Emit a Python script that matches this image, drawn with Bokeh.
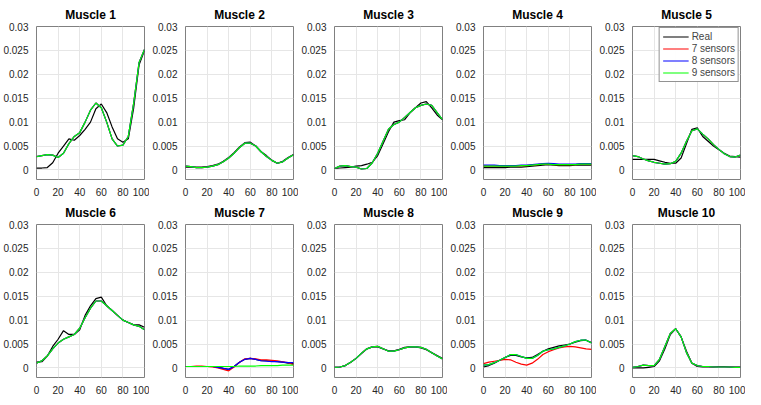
from bokeh.plotting import figure
from bokeh.layouts import gridplot
from bokeh.models import FixedTicker, Legend, LegendItem
from bokeh.embed import file_html
from bokeh.resources import INLINE

# gait cycle (%) and activations, values in units of 0.001
x = [0, 5, 10, 15, 20, 25, 30, 35, 40, 45, 50, 55, 60, 65, 70, 75, 80, 85, 90, 95, 100]

m1_real = [0.4, 0.4, 0.5, 1.5, 3.5, 5, 6.5, 6.2, 7.2, 8.5, 10, 12.8, 13.8, 12, 9, 6.5, 5.8, 6.5, 13, 22, 25]
m1_s9 = [2.8, 3, 3.2, 3.1, 2.6, 3.5, 5.5, 7, 7.8, 10, 12.5, 14, 13, 10, 6.5, 5, 5.2, 7, 14, 22.5, 25.2]
m2_real = [0.6, 0.6, 0.6, 0.6, 0.7, 0.9, 1.2, 1.8, 2.6, 3.6, 4.8, 5.7, 5.8, 5, 3.8, 3, 2, 1.4, 1.8, 2.6, 3.2]
m2_s9 = [0.8, 0.7, 0.5, 0.5, 0.6, 0.8, 1.1, 1.7, 2.5, 3.5, 4.7, 5.6, 5.6, 5, 3.8, 2.8, 2, 1.4, 1.7, 2.5, 3.2]
m3_real = [0.3, 0.4, 0.5, 0.6, 0.8, 0.9, 1.2, 1.6, 3, 5.5, 8, 10, 10.3, 10.5, 12, 13, 14, 14.3, 13, 11.5, 10.5]
m3_s9 = [0.3, 0.8, 0.9, 0.7, 0.6, 0.2, 0.3, 1.5, 3.5, 6, 8.5, 9.5, 10, 11, 12, 13, 13.5, 13.8, 13.5, 12, 10.5]
m4_real = [0.5, 0.5, 0.5, 0.5, 0.5, 0.6, 0.6, 0.6, 0.7, 0.8, 0.9, 1, 1.1, 1, 0.9, 0.9, 0.9, 1, 1, 1, 1]
m4_s8 = [1, 1, 1, 0.9, 0.9, 0.9, 0.9, 1, 1, 1.1, 1.2, 1.3, 1.4, 1.3, 1.2, 1.2, 1.2, 1.2, 1.3, 1.3, 1.3]
m4_s9 = [0.8, 0.8, 0.8, 0.8, 0.8, 0.8, 0.8, 0.9, 0.9, 1, 1.1, 1.2, 1.2, 1.1, 1.1, 1.1, 1.1, 1.1, 1.2, 1.2, 1.2]
m5_real = [2.2, 2.2, 2.2, 2.2, 2.2, 1.9, 1.6, 1.4, 1.4, 2.5, 5.5, 8.5, 8.8, 7, 6, 5, 4.2, 3.5, 2.9, 2.8, 2.7]
m5_s9 = [3, 2.8, 2.3, 1.9, 1.6, 1.4, 1.2, 1.3, 1.8, 3.5, 6, 8.2, 8.6, 7.5, 6.5, 5.3, 4.3, 3.4, 2.8, 2.7, 3.1]
m6_real = [1.2, 1.3, 2.5, 4.5, 6, 7.8, 7, 7, 8, 11, 13, 14.5, 14.8, 13, 12, 11, 10, 9.5, 9, 9, 8.5]
m6_s9 = [1, 1.5, 2.5, 4, 5.2, 6, 6.5, 7, 8.3, 10.5, 12.5, 14, 14, 13, 12, 11, 10, 9.5, 9, 8.7, 8]
m7_real = [0.3, 0.3, 0.3, 0.3, 0.3, 0.3, 0.2, -0.1, -0.3, 0.3, 1.2, 1.8, 2, 1.8, 1.5, 1.5, 1.4, 1.3, 1.2, 1, 0.9]
m7_s7 = [0.3, 0.3, 0.4, 0.4, 0.3, 0.2, 0, -0.3, -0.6, 0.2, 1.2, 1.9, 2, 1.9, 1.7, 1.7, 1.6, 1.5, 1.3, 1.1, 0.7]
m7_s8 = [0.3, 0.3, 0.3, 0.3, 0.3, 0.3, 0.1, -0.1, -0.3, 0.3, 1.2, 1.8, 2, 1.8, 1.5, 1.4, 1.3, 1.3, 1.2, 1.1, 1.1]
m7_s9 = [0.3, 0.3, 0.3, 0.3, 0.3, 0.3, 0.3, 0.3, 0.3, 0.3, 0.4, 0.4, 0.4, 0.4, 0.5, 0.5, 0.5, 0.5, 0.6, 0.6, 0.6]
m8_real = [0.1, 0.2, 0.5, 1.2, 2, 3, 4, 4.4, 4.4, 4, 3.6, 3.6, 3.9, 4.3, 4.4, 4.4, 4.2, 3.8, 3.2, 2.6, 2]
m8_s9 = [0.1, 0.2, 0.5, 1.2, 2, 3.1, 4, 4.4, 4.5, 4, 3.5, 3.5, 3.8, 4.2, 4.4, 4.4, 4.3, 3.9, 3.2, 2.5, 1.9]
m9_real = [0.2, 0.5, 1, 1.6, 2.2, 2.6, 2.6, 2.3, 2.1, 2.2, 2.8, 3.5, 4, 4.3, 4.6, 4.8, 5, 5.4, 5.7, 5.8, 5.3]
m9_s7 = [0.9, 1.2, 1.4, 1.6, 1.8, 1.7, 1.2, 0.8, 0.6, 1, 1.8, 2.8, 3.4, 3.8, 4.2, 4.4, 4.5, 4.4, 4.2, 4, 3.9]
m9_s9 = [0.6, 0.7, 1.1, 1.6, 2.2, 2.8, 2.8, 2.4, 2, 2, 2.6, 3.5, 3.8, 4, 4.3, 4.6, 5, 5.5, 5.8, 5.8, 5.2]
m10_real = [0, 0, 0, 0.1, 0.3, 1.5, 4, 7, 8.2, 6.5, 3.5, 1, 0.3, 0.2, 0.2, 0.2, 0.3, 0.3, 0.2, 0.2, 0.2]
m10_s9 = [0.1, 0.3, 0.6, 0.5, 0.5, 1.8, 4.5, 7.2, 8.2, 6.5, 3.2, 1, 0.5, 0.3, 0.3, 0.2, 0.2, 0.2, 0.2, 0.1, 0.1]

# (real, 7 sensors, 8 sensors, 9 sensors)
muscles = [
    (m1_real, m1_s9, m1_s9, m1_s9),
    (m2_real, m2_s9, m2_s9, m2_s9),
    (m3_real, m3_s9, m3_s9, m3_s9),
    (m4_real, m4_s9, m4_s8, m4_s9),
    (m5_real, m5_s9, m5_s9, m5_s9),
    (m6_real, m6_s9, m6_s9, m6_s9),
    (m7_real, m7_s7, m7_s8, m7_s9),
    (m8_real, m8_s9, m8_s9, m8_s9),
    (m9_real, m9_s7, m9_s9, m9_s9),
    (m10_real, m10_s9, m10_s9, m10_s9),
]
series_names = ["Real", "7 sensors", "8 sensors", "9 sensors"]
colors = ["#000000", "#ff0000", "#0000ff", "#00ff00"]
yticks = [0, 0.005, 0.01, 0.015, 0.02, 0.025, 0.03]
ylabels = ["0", "0.005", "0.01", "0.015", "0.02", "0.025", "0.03"]

figs = []
for i, series in enumerate(muscles):
    p = figure(width=149, height=198, x_range=(0, 100), y_range=(-0.002, 0.03),
               title="Muscle %d" % (i + 1), output_backend="svg", toolbar_location=None,
               min_border_left=30, min_border_right=5, min_border_top=4, min_border_bottom=4)
    p.title.align = "center"
    p.title.text_font = "Liberation Sans"
    p.title.text_font_size = "9pt"
    p.title.text_color = "black"
    p.outline_line_color = "#808080"
    p.xaxis.ticker = FixedTicker(ticks=[0, 20, 40, 60, 80, 100])
    p.yaxis.ticker = FixedTicker(ticks=yticks)
    p.yaxis.major_label_overrides = dict(zip(yticks, ylabels))
    for ax in (p.xaxis, p.yaxis):
        ax.axis_line_color = None
        ax.major_tick_line_color = None
        ax.minor_tick_line_color = None
        ax.major_label_text_font = "Liberation Sans"
        ax.major_label_text_font_size = "7.5pt"
        ax.major_label_text_color = "#262626"
        ax.major_label_standoff = 2
    p.grid.grid_line_color = "#e6e6e6"
    renderers = []
    for vals, c in zip(series, colors):
        r = p.line(x, [v * 0.001 for v in vals], line_color=c, line_width=1.2)
        renderers.append(r)
    if i == 4:
        items = [LegendItem(label=n, renderers=[r]) for n, r in zip(series_names, renderers)]
        leg = Legend(items=items, location="top_right", label_text_font_size="7.5pt",
                     label_text_font="Liberation Sans", glyph_width=26, glyph_height=11,
                     label_height=11, spacing=1, padding=3, margin=1,
                     border_line_color="#262626", label_standoff=3)
        p.add_layout(leg)
    figs.append(p)

p = gridplot([figs[:5], figs[5:]], toolbar_location=None)
open("out.html", "w").write(file_html(p, INLINE))
